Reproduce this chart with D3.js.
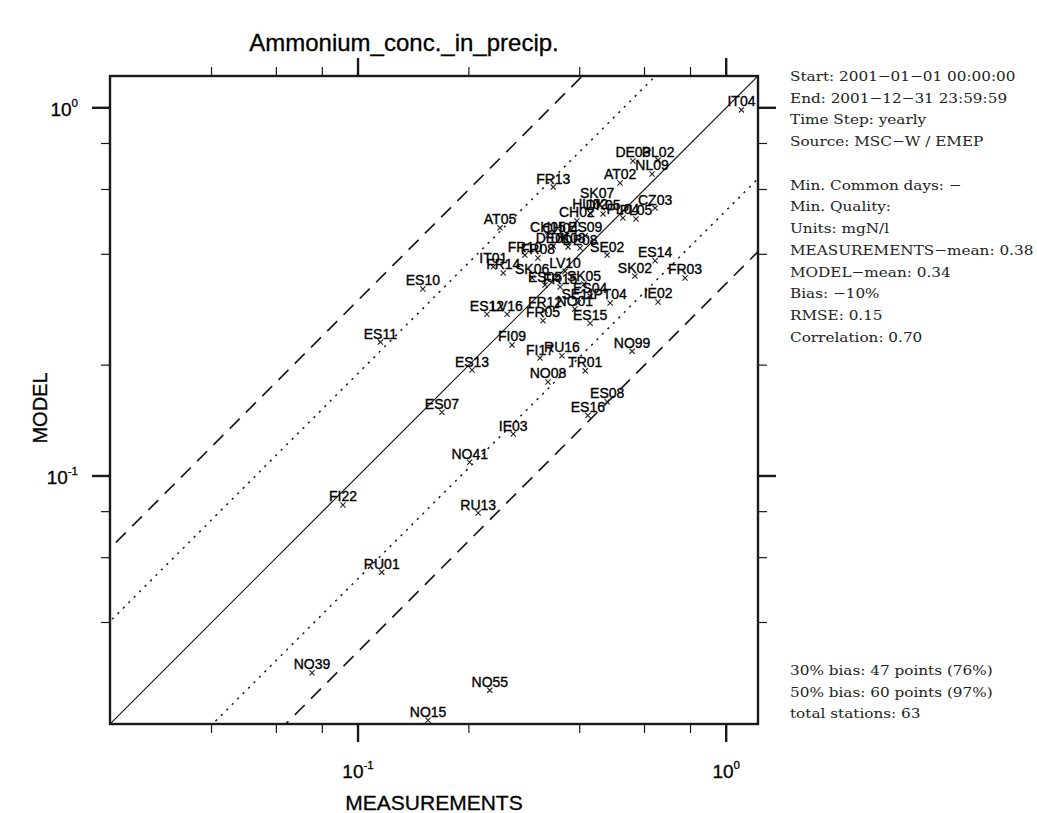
<!DOCTYPE html>
<html>
<head>
<meta charset="utf-8">
<script src="https://cdn.jsdelivr.net/npm/d3@7/dist/d3.min.js"></script>
<style>
	body { margin: 0; background: #fff; }
	svg { display: block; }
</style>
</head>
<body>
<svg id="chart" width="1037" height="813"></svg>
<script>
/* Chart data */
const stations = [
	"IT04", "DE03", "PL02", "NL09", "AT02", "FR13", "SK07", "CZ03", "HU02", "CH02",
	"PL04", "PL05", "AT05", "CH04", "ES09", "DE01", "DE08", "SE02", "FR10", "FR08",
	"ES14", "IT01", "FR14", "LV10", "SK06", "SK05", "SK02", "FR03", "IE02", "ES10",
	"ES12", "LV16", "FR12", "NO01", "FR05", "ES15", "FI09", "FI17", "RU16", "NO99",
	"TR01", "ES13", "NO08", "ES08", "ES16", "ES07", "IE03", "NO41", "FI22", "RU13",
	"RU01", "NO39", "NO55", "NO15", "ES11", "ES05", "FR15", "ES04", "PT04", "SE11",
	"DK08", "DK05", "CH05"
];
const measurements = [
	1.10, 0.558, 0.653, 0.629, 0.515, 0.339, 0.446, 0.641, 0.427, 0.393,
	0.524, 0.569, 0.243, 0.354, 0.414, 0.339, 0.401, 0.475, 0.284, 0.308,
	0.641, 0.233, 0.248, 0.365, 0.297, 0.411, 0.565, 0.773, 0.653, 0.150,
	0.224, 0.254, 0.322, 0.388, 0.318, 0.427, 0.262, 0.312, 0.358, 0.555,
	0.414, 0.204, 0.328, 0.475, 0.421, 0.169, 0.264, 0.201, 0.0910, 0.212,
	0.116, 0.0750, 0.228, 0.155, 0.115, 0.322, 0.354, 0.427, 0.484, 0.396,
	0.372, 0.463, 0.328
];
const model = [
	0.987, 0.717, 0.721, 0.661, 0.625, 0.609, 0.555, 0.534, 0.518, 0.493,
	0.502, 0.499, 0.472, 0.446, 0.449, 0.421, 0.416, 0.398, 0.398, 0.391,
	0.384, 0.370, 0.356, 0.360, 0.345, 0.332, 0.349, 0.345, 0.297, 0.322,
	0.275, 0.275, 0.282, 0.284, 0.264, 0.260, 0.227, 0.209, 0.212, 0.218,
	0.193, 0.194, 0.180, 0.159, 0.146, 0.149, 0.130, 0.109, 0.0834, 0.0793,
	0.0548, 0.0292, 0.0262, 0.0217, 0.231, 0.330, 0.326, 0.308, 0.295, 0.295,
	0.419, 0.515, 0.449
];

const axisDomain = [0.0212, 1.22];
const majorTicks = [0.1, 1];
const tickExponents = ["-1", "0"];
const minorTicks = [0.04, 0.06, 0.08, 0.2, 0.4, 0.6, 0.8];

// model = factor * measurements
const ratioLines = [1, 1.9, 1 / 1.9, 3, 1 / 3];

const infoLines = [
	"Start: 2001\u221201\u221201 00:00:00",
	"End: 2001\u221212\u221231 23:59:59",
	"Time Step: yearly",
	"Source: MSC\u2212W / EMEP",
	"",
	"Min. Common days: \u2212",
	"Min. Quality:",
	"Units: mgN/l",
	"MEASUREMENTS\u2212mean: 0.38",
	"MODEL\u2212mean: 0.34",
	"Bias: \u221210%",
	"RMSE: 0.15",
	"Correlation: 0.70"
];
const summaryLines = [
	"30% bias: 47 points (76%)",
	"50% bias: 60 points (97%)",
	"total stations: 63"
];

/* Layout */
const plot = { left: 110, top: 76, size: 648 };
const sans = "'Liberation Sans', Arial, Helvetica, sans-serif";

const svg = d3.select("#chart");

const xScale = d3.scaleLog()
	.domain(axisDomain)
	.range([plot.left, plot.left + plot.size]);

const yScale = d3.scaleLog()
	.domain(axisDomain)
	.range([plot.top + plot.size, plot.top]);

const points = stations.map((name, i) => ({ name, x: measurements[i], y: model[i] }));

/**
 * Ratio lines (1:1, dotted and dashed bands), clipped to the plot box
 */
function drawRatioLines(g) {
	g.append("clipPath")
		.attr("id", "plotClip")
		.append("rect")
		.attr("x", plot.left)
		.attr("y", plot.top)
		.attr("width", plot.size)
		.attr("height", plot.size);

	const line = d3.line()
		.x((d) => xScale(d[0]))
		.y((d) => yScale(d[1]));

	const dashed = (k) => k > 2.5 || k < 0.4;

	g.append("g")
		.attr("clip-path", "url(#plotClip)")
		.selectAll("path")
		.data(ratioLines)
		.enter()
		.append("path")
		.attr("d", (k) => line([[axisDomain[0] / 10, axisDomain[0] / 10 * k], [axisDomain[1] * 10, axisDomain[1] * 10 * k]]))
		.attr("fill", "none")
		.attr("stroke", "#1a1a1a")
		.attr("stroke-width", (k) => (k === 1 ? 1.2 : dashed(k) ? 1.7 : 1.5))
		.attr("stroke-dasharray", (k) => (k === 1 ? null : dashed(k) ? "14,9" : "2.2,5.5"));
}

/**
 * Outward ticks on all four sides
 */
function drawTicks(g) {
	const ticks = majorTicks.map((v) => ({ v, major: true }))
		.concat(minorTicks.map((v) => ({ v, major: false })));
	const len = (d) => (d.major ? 18 : 9);
	const width = (d) => (d.major ? 2.4 : 1.2);
	const bottom = plot.top + plot.size;
	const right = plot.left + plot.size;

	const sides = [
		(d) => [xScale(d.v), bottom, xScale(d.v), bottom + len(d)],
		(d) => [xScale(d.v), plot.top, xScale(d.v), plot.top - len(d)],
		(d) => [plot.left, yScale(d.v), plot.left - len(d), yScale(d.v)],
		(d) => [right, yScale(d.v), right + len(d), yScale(d.v)]
	];

	sides.forEach((pos) => {
		g.append("g")
			.selectAll("line")
			.data(ticks)
			.enter()
			.append("line")
			.attr("x1", (d) => pos(d)[0])
			.attr("y1", (d) => pos(d)[1])
			.attr("x2", (d) => pos(d)[2])
			.attr("y2", (d) => pos(d)[3])
			.attr("stroke", "#1a1a1a")
			.attr("stroke-width", width);
	});

	const power = (sel, i) => {
		sel.append("tspan").text("10");
		sel.append("tspan")
			.attr("dy", -9)
			.attr("font-size", 11.5)
			.text(tickExponents[i]);
	};

	majorTicks.forEach((v, i) => {
		g.append("text")
			.attr("x", xScale(v))
			.attr("y", 778)
			.attr("text-anchor", "middle")
			.attr("font-family", sans)
			.attr("font-size", 19)
			.attr("stroke", "#000")
			.attr("stroke-width", 0.3)
			.call(power, i);

		g.append("text")
			.attr("x", 78)
			.attr("y", yScale(v) + 8)
			.attr("text-anchor", "end")
			.attr("font-family", sans)
			.attr("font-size", 19)
			.attr("stroke", "#000")
			.attr("stroke-width", 0.3)
			.call(power, i);
	});
}

/**
 * Station markers and labels
 */
function drawStations(g) {
	const station = g.selectAll(".station")
		.data(points)
		.enter()
		.append("g")
		.attr("class", "station")
		.attr("transform", (d) => "translate(" + xScale(d.x) + "," + yScale(d.y) + ")");

	station.append("path")
		.attr("d", "M-2.6,-2.6L2.6,2.6M-2.6,2.6L2.6,-2.6")
		.attr("stroke", "#222")
		.attr("stroke-width", 1.1);

	station.append("text")
		.attr("y", -3.5)
		.attr("text-anchor", "middle")
		.attr("font-family", sans)
		.attr("font-size", 14)
		.attr("fill", "#000")
		.attr("stroke", "#000")
		.attr("stroke-width", 0.35)
		.text((d) => d.name);
}

/**
 * Text block on the right
 */
function drawInfo(g) {
	const block = (lines, y0) => {
		g.append("g")
			.attr("transform", "translate(790," + y0 + ") scale(1.13,1)")
			.selectAll("text")
			.data(lines)
			.enter()
			.append("text")
			.attr("y", (d, i) => i * 21.75)
			.attr("font-family", "'DejaVu Serif', serif")
			.attr("font-size", 13.5)
			.attr("fill", "#222")
			.text((d) => d);
	};
	block(infoLines, 81);
	block(summaryLines, 675);
}

drawRatioLines(svg);
drawStations(svg);

svg.append("rect")
	.attr("x", plot.left)
	.attr("y", plot.top)
	.attr("width", plot.size)
	.attr("height", plot.size)
	.attr("fill", "none")
	.attr("stroke", "#1a1a1a")
	.attr("stroke-width", 2.4);

drawTicks(svg);
drawInfo(svg);

svg.append("text")
	.attr("x", 404)
	.attr("y", 51)
	.attr("text-anchor", "middle")
	.attr("font-family", sans)
	.attr("font-size", 24)
	.attr("stroke", "#000")
	.attr("stroke-width", 0.3)
	.text("Ammonium_conc._in_precip.");

svg.append("text")
	.attr("x", xScale(Math.sqrt(axisDomain[0] * axisDomain[1])))
	.attr("y", 810)
	.attr("text-anchor", "middle")
	.attr("font-family", sans)
	.attr("font-size", 21)
	.attr("stroke", "#000")
	.attr("stroke-width", 0.3)
	.text("MEASUREMENTS");

svg.append("text")
	.attr("transform", "translate(47,408) rotate(-90)")
	.attr("text-anchor", "middle")
	.attr("font-family", sans)
	.attr("font-size", 20)
	.attr("stroke", "#000")
	.attr("stroke-width", 0.3)
	.text("MODEL");
</script>
</body>
</html>
